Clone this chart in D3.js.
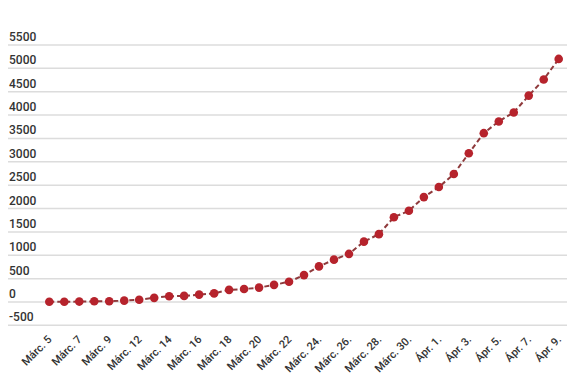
<!DOCTYPE html>
<html>
<head>
<meta charset="utf-8">
<script src="https://cdn.jsdelivr.net/npm/d3@7"></script>
<style>
  body { margin: 0; background: #fff; }
  .ylab { font-family: Roboto, "Noto Sans", sans-serif; font-size: 12px; font-weight: 500; fill: #333; }
  .xlab { font-family: Roboto, "Noto Sans", sans-serif; font-size: 11px; font-weight: 500; fill: #333; }
</style>
</head>
<body>
<div id="chart"></div>
<script>
// one point per day; Mar 10 is missing in the source
const days = ["Márc. 5", "Márc. 6", "Márc. 7", "Márc. 8", "Márc. 9", "Márc. 11",
  "Márc. 12", "Márc. 13", "Márc. 14", "Márc. 15", "Márc. 16", "Márc. 17", "Márc. 18",
  "Márc. 19", "Márc. 20", "Márc. 21", "Márc. 22", "Márc. 23.", "Márc. 24.", "Márc. 25.",
  "Márc. 26.", "Márc. 27.", "Márc. 28.", "Márc. 29.", "Márc. 30.", "Márc. 31.",
  "Ápr. 1.", "Ápr. 2.", "Ápr. 3.", "Ápr. 4.", "Ápr. 5.", "Ápr. 6.", "Ápr. 7.", "Ápr. 8.", "Ápr. 9."];
const cases = [4, 6, 9, 15, 15, 30, 49, 89, 123, 131, 158, 184, 260, 277, 308, 367, 433,
  576, 762, 906, 1029, 1292, 1452, 1815, 1952, 2245, 2460, 2738, 3183, 3613, 3864,
  4057, 4417, 4761, 5202];
const yTicks = [-500, 0, 500, 1000, 1500, 2000, 2500, 3000, 3500, 4000, 4500, 5000, 5500];

const W = 575, H = 387;
const svg = d3.select("#chart").append("svg")
  .attr("width", W)
  .attr("height", H);

const x = d3.scalePoint()
  .domain(days)
  .range([49.3, 558.7]);

const y = d3.scaleLinear()
  .domain([0, 5500])
  .range([302, 45]);

// horizontal grid + labels sitting above each line
const grid = svg.append("g");
yTicks.forEach(t => {
  grid.append("line")
    .attr("x1", 8).attr("x2", 567)
    .attr("y1", y(t)).attr("y2", y(t))
    .style("stroke", "#dcdcdc")
    .style("stroke-width", 1.5);
  grid.append("text")
    .attr("class", "ylab")
    .attr("x", 9)
    .attr("y", y(t) - 4)
    .text(t);
});

// x labels, every other day
const xAxis = d3.axisBottom(x)
  .tickValues(days.filter((d, i) => i % 2 === 0))
  .tickSize(0)
  .tickPadding(0);

const gx = svg.append("g")
  .attr("transform", `translate(0,${y(-500) + 8})`)
  .call(xAxis);
gx.select(".domain").remove();
gx.selectAll("text")
  .attr("class", "xlab")
  .attr("text-anchor", "end")
  .attr("dy", "0.35em")
  .attr("transform", "translate(0,4) rotate(-45)")
  .attr("x", 0).attr("y", 0);

const line = d3.line()
  .x((d, i) => x(days[i]))
  .y(d => y(d));

svg.append("path")
  .datum(cases)
  .attr("d", line)
  .style("fill", "none")
  .style("stroke", "#8f3a3c")
  .style("stroke-width", 2)
  .style("stroke-dasharray", "5,3");

svg.selectAll("circle.pt")
  .data(cases)
  .enter().append("circle")
  .attr("class", "pt")
  .attr("cx", (d, i) => x(days[i]))
  .attr("cy", d => y(d))
  .attr("r", 4.3)
  .style("fill", "#b6232c");
</script>
</body>
</html>
